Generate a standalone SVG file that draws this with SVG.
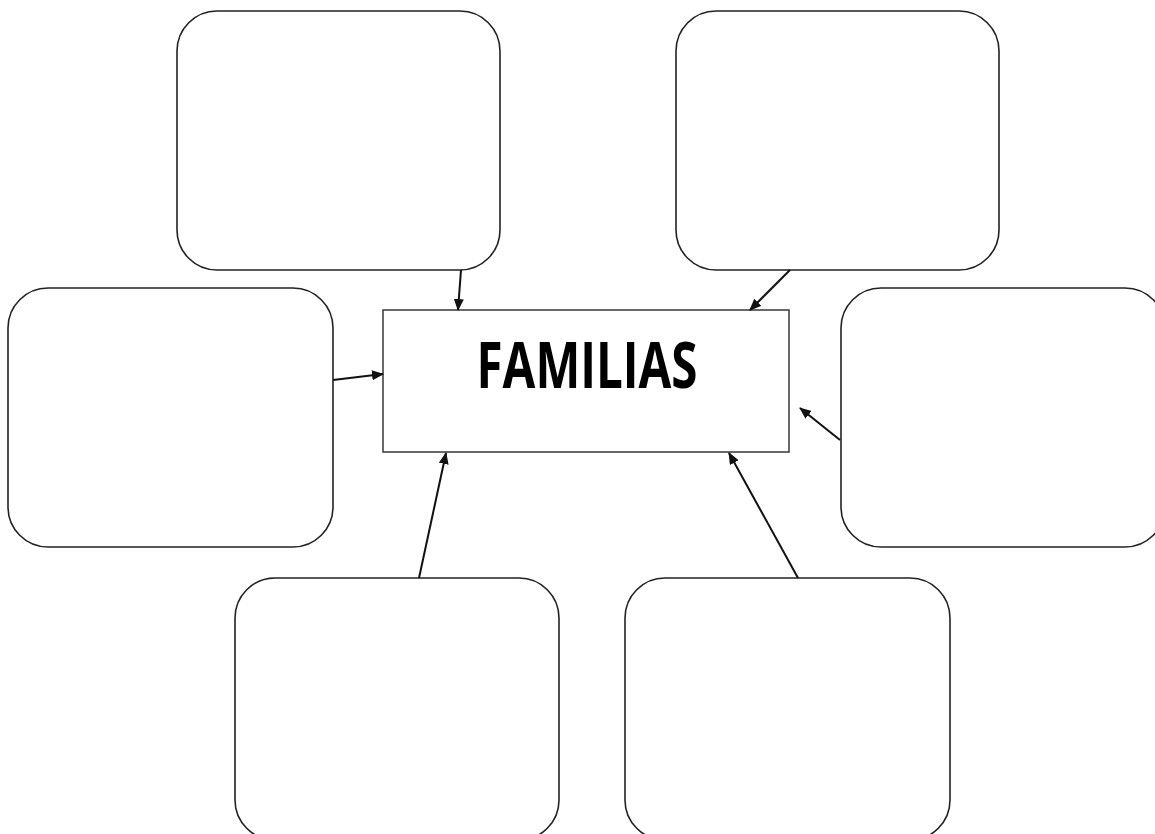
<svg xmlns="http://www.w3.org/2000/svg" width="1155" height="834" viewBox="0 0 1155 834">
<style>
.box{fill:#fff;stroke:#222;stroke-width:1.6}
.center{fill:#fff;stroke:#444;stroke-width:1.6}
.conn{stroke:#111;stroke-width:2;fill:none;marker-end:url(#arr)}
.title{font-family:"Open Sans","Liberation Sans",Arial,sans-serif;font-weight:bold;font-size:64px;fill:#000}
</style>
<defs>
<marker id="arr" markerWidth="12" markerHeight="10" refX="11" refY="5" orient="auto" markerUnits="userSpaceOnUse">
<path d="M0,0 L12,5 L0,10 Z" fill="#111"/>
</marker>
</defs>
<rect width="1155" height="834" fill="#fff"/>
<g id="box-top-left"><rect class="box" x="177" y="11" width="323" height="259" rx="40" ry="40"/></g>
<g id="box-top-right"><rect class="box" x="676" y="11" width="323" height="259" rx="40" ry="40"/></g>
<g id="box-left"><rect class="box" x="8" y="288" width="325" height="259" rx="40" ry="40"/></g>
<g id="box-right"><rect class="box" x="841" y="288" width="324" height="259" rx="40" ry="40"/></g>
<g id="box-bottom-left"><rect class="box" x="235" y="578" width="324" height="262" rx="40" ry="40"/></g>
<g id="box-bottom-right"><rect class="box" x="625" y="578" width="325" height="262" rx="40" ry="40"/></g>
<g id="center">
<rect class="center" x="383" y="310" width="406" height="142"/>
<text class="title" x="587" y="388" text-anchor="middle" textLength="221" lengthAdjust="spacingAndGlyphs">FAMILIAS</text>
</g>
<g id="connectors">
<line class="conn" x1="461" y1="270" x2="458" y2="310"/>
<line class="conn" x1="790" y1="270" x2="750" y2="310"/>
<line class="conn" x1="333" y1="380" x2="383" y2="374"/>
<line class="conn" x1="840" y1="440" x2="800" y2="408"/>
<line class="conn" x1="419" y1="578" x2="446" y2="453"/>
<line class="conn" x1="798" y1="578" x2="729" y2="453"/>
</g>
</svg>
